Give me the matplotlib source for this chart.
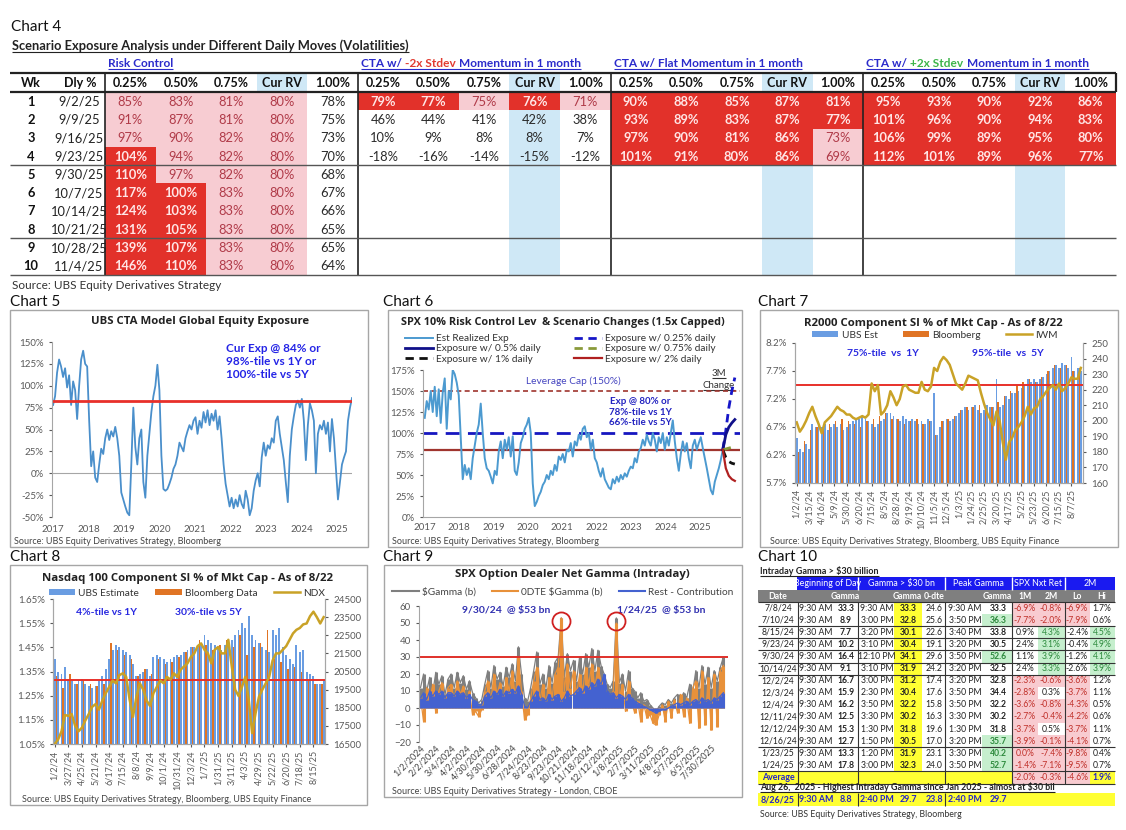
import numpy as np
import matplotlib
matplotlib.use("Agg")
import matplotlib.pyplot as plt
from matplotlib.patches import Rectangle

plt.rcParams['font.family'] = ['Lato', 'DejaVu Sans']
TITLE_FONT = ['Open Sans', 'DejaVu Sans']

# ---------------- Chart 4: scenario table ----------------
weeks = list(range(1, 11))
week_dates = ['9/2/25', '9/9/25', '9/16/25', '9/23/25', '9/30/25', '10/7/25',
              '10/14/25', '10/21/25', '10/28/25', '11/4/25']
scen_cols = ['0.25%', '0.50%', '0.75%', 'Cur RV', '1.00%']
risk_ctrl = [[85, 83, 81, 80, 78], [91, 87, 81, 80, 75], [97, 90, 82, 80, 73],
             [104, 94, 82, 80, 70], [110, 97, 82, 80, 68], [117, 100, 83, 80, 67],
             [124, 103, 83, 80, 66], [131, 105, 83, 80, 65], [139, 107, 83, 80, 65],
             [146, 110, 83, 80, 64]]
cta_neg2 = [[79, 77, 75, 76, 71], [46, 44, 41, 42, 38], [10, 9, 8, 8, 7], [-18, -16, -14, -15, -12]]
cta_flat = [[90, 88, 85, 87, 81], [93, 89, 83, 87, 77], [97, 90, 81, 86, 73], [101, 91, 80, 86, 69]]
cta_pos2 = [[95, 93, 90, 92, 86], [101, 96, 90, 94, 83], [106, 99, 89, 95, 80], [112, 101, 89, 96, 77]]
# cell shading codes: r = red, p = pink, w = none
risk_fill = ['ppppw'] * 3 + ['rpppw'] * 2 + ['rrppw'] * 5
neg2_fill = ['rrprp', 'wwwww', 'wwwww', 'wwwww']
flat_fill = ['rrrrr', 'rrrrr', 'rrrrp', 'rrrrp']
pos2_fill = ['rrrrr'] * 4

# ---------------- Chart 5: CTA global equity exposure (%) ----------------
cta_exp = [78, 88, 115, 130, 122, 110, 120, 98, 112, 78, 105, 95, 62, 100, 130, 140, 125, 122,
           60, 8, 25, -5, -10, 10, 28, 22, 40, 50, 38, 48, 42, 53, 40, 20, -22, -30, -38, -45,
           -48, 10, 75, 30, 10, 40, 50, -10, -28, 20, 45, 70, 88, 100, 124, 95, 20, -18, -20,
           -18, -12, -5, 5, 10, 20, 35, 30, 25, 40, 48, 55, 50, 60, 64, 45, 60, 52, 70, 58, 72,
           55, 68, 60, 72, 50, 65, 40, 10, -12, -25, -38, -28, -40, -30, -38, -25, -35, -40,
           -20, -30, -48, -40, -20, -8, 0, -15, 18, 35, 20, 32, 28, 40, 35, 60, 65, 45, 30, 15,
           -10, -33, 20, 50, 65, 78, 83, 75, 85, 60, 15, 55, 80, 72, 60, 0, 45, 55, 50, 60, 45,
           58, 25, 62, 40, 5, -30, -10, 10, 18, 25, 60, 75, 86]
cta_span = (2017.0, 2025.42)
cta_cur_line = 83

# ---------------- Chart 6: SPX risk control exposure (%) ----------------
rc_exp = [118, 138, 128, 150, 125, 155, 120, 152, 112, 148, 165, 105, 150, 140, 175, 170, 160,
          145, 95, 45, 62, 50, 58, 45, 70, 85, 100, 110, 135, 100, 70, 58, 55, 48, 40, 55, 50,
          78, 90, 70, 92, 80, 95, 72, 96, 55, 50, 65, 88, 95, 105, 110, 118, 100, 40, 13, 18,
          25, 30, 38, 42, 50, 45, 55, 50, 62, 55, 72, 68, 75, 65, 80, 78, 88, 72, 90, 85, 98,
          92, 105, 108, 95, 100, 80, 92, 70, 65, 55, 48, 58, 45, 40, 35, 33, 45, 40, 48, 42,
          50, 45, 52, 48, 55, 60, 58, 70, 65, 78, 82, 92, 85, 98, 90, 85, 100, 92, 78, 95, 88,
          100, 80, 95, 85, 100, 115, 90, 70, 55, 75, 90, 78, 88, 70, 58, 85, 92, 80, 88, 95,
          82, 70, 58, 45, 32, 27, 42, 50, 58, 68, 80]
rc_span = (2017.0, 2025.67)
scen_span = (2025.67, 2026.02)
scen_025 = [80, 103, 130, 150, 166]
scen_050 = [80, 98, 107, 112, 116]
scen_075 = [80, 81, 82, 83, 84]
scen_100 = [80, 71, 66, 64, 63]
scen_200 = [80, 58, 49, 45, 43]

# ---------------- Chart 7: R2000 SI % of mkt cap ----------------
r2k_labels = ['1/2/24', '3/15/24', '4/16/24', '5/9/24', '5/30/24', '6/20/24', '7/15/24', '8/5/24',
              '8/28/24', '9/19/24', '10/10/24', '11/5/24', '12/5/24', '1/3/25', '1/24/25', '2/25/25',
              '3/20/25', '4/17/25', '5/2/25', '5/23/25', '6/20/25', '7/15/25', '8/7/25']
r2k_ubs = [6.50, 6.30, 6.25, 6.40, 6.30, 6.75, 6.70, 6.80, 6.70, 6.75,
           6.65, 6.70, 6.75, 6.70, 6.75, 6.65, 6.70, 6.75, 6.80, 6.85,
           6.85, 6.90, 6.85, 6.80, 6.75, 6.70, 6.75, 6.80, 6.85, 6.95,
           6.95, 6.90, 6.85, 6.80, 6.90, 6.85, 6.80, 6.85, 6.80, 6.75,
           6.80, 6.75, 6.85, 6.80, 7.30, 6.55, 6.70, 6.80, 6.85, 6.80,
           6.85, 6.90, 6.95, 7.00, 7.05, 7.00, 7.05, 7.10, 7.00, 6.95,
           7.00, 7.10, 7.05, 7.05, 7.55, 7.05, 7.10, 7.25, 7.20, 7.30,
           7.30, 7.35, 7.40, 7.45, 7.55, 7.50, 7.55, 7.50, 7.55, 7.60,
           7.65, 7.70, 7.75, 7.80, 7.75, 7.85, 7.80, 7.75, 7.95, 7.70,
           7.75, 7.70]
r2k_bbg = [6.25, 6.45, 6.65, 6.70, 6.70, 6.75, 6.80, 6.85, 6.80, 6.75, 6.70, 6.80, 6.85, 6.90,
           6.95, 6.85, 6.85, 6.75, 6.80, 6.85, 6.75, 6.80, 6.55, 6.80, 6.85, 6.90, 7.00, 7.05,
           7.05, 7.10, 7.00, 7.05, 7.15, 7.25, 7.35, 7.45, 7.50, 7.55, 7.50, 7.60, 7.70, 7.80,
           7.75, 7.80, 7.70, 7.75]
iwm = [199, 193, 196, 200, 205, 209, 203, 198, 192, 199, 201, 203, 206, 209, 207, 206, 204, 204,
       202, 201, 202, 203, 202, 204, 224, 219, 223, 204, 206, 210, 219, 215, 210, 214, 222, 223,
       220, 219, 218, 218, 225, 220, 219, 222, 234, 232, 238, 241, 239, 236, 230, 224, 222, 220,
       224, 229, 228, 227, 226, 218, 211, 205, 201, 197, 206, 200, 186, 175, 186, 189, 194, 196,
       199, 203, 209, 204, 208, 209, 214, 216, 219, 221, 223, 220, 224, 219, 221, 224, 228, 227,
       227, 234]
r2k_line = 7.45

# ---------------- Chart 8: Nasdaq 100 SI % of mkt cap ----------------
ndx_labels = ['1/2/24', '3/27/24', '4/25/24', '5/21/24', '6/17/24', '7/15/24', '8/8/24', '9/9/24',
              '10/1/24', '10/31/24', '12/3/24', '1/7/25', '1/31/25', '3/11/25', '4/3/25', '4/29/25',
              '5/22/25', '6/20/25', '7/18/25', '8/15/25']
ndx_ubs = [1.40, 1.35, 1.34, 1.37, 1.32, 1.31, 1.30, 1.31, 1.32, 1.30,
           1.29, 1.28, 1.29, 1.31, 1.33, 1.36, 1.40, 1.44, 1.46, 1.45,
           1.44, 1.43, 1.42, 1.38, 1.33, 1.34, 1.35, 1.36, 1.33, 1.41,
           1.42, 1.41, 1.40, 1.39, 1.40, 1.41, 1.42, 1.42, 1.43, 1.44,
           1.45, 1.45, 1.46, 1.47, 1.50, 1.48, 1.47, 1.46, 1.45, 1.44,
           1.46, 1.47, 1.48, 1.50, 1.52, 1.55, 1.53, 1.58, 1.50, 1.48,
           1.47, 1.45, 1.44, 1.43, 1.52, 1.50, 1.53, 1.45, 1.42, 1.40,
           1.38, 1.46, 1.43, 1.44, 1.35, 1.34, 1.33, 1.30, 1.30, 1.31]
ndx_bbg = [1.33, 1.28, 1.34, 1.30, 1.31, 1.30, 1.29, 1.30, 1.47, 1.44, 1.42, 1.40, 1.33, 1.36,
           1.34, 1.40, 1.38, 1.39, 1.41, 1.43, 1.45, 1.48, 1.46, 1.44, 1.46, 1.48, 1.45, 1.50,
           1.42, 1.45, 1.47, 1.52, 1.40, 1.39, 1.36, 1.37, 1.35, 1.31, 1.30, 1.30]
ndx_px = [16500, 16750, 17200, 18100, 18050, 18150, 17500, 17200, 17400, 17800, 18150, 18550,
          18700, 18400, 18900, 19300, 19650, 20000, 19850, 20300, 20400, 20200, 18950, 18000,
          19100, 19850, 19500, 18900, 18600, 19300, 19650, 20000, 19850, 20200, 20050, 20400,
          20200, 20600, 20780, 20950, 21300, 21500, 21900, 22050, 21700, 21500, 20950, 21700,
          21850, 21500, 21500, 22250, 20800, 19500, 19150, 19650, 20200, 18950, 17100, 18200,
          19100, 19500, 19850, 20200, 21100, 21500, 21500, 21700, 21900, 22250, 22600, 22800,
          22900, 23100, 23150, 23550, 23800, 23500, 23150, 23500]
ndx_line = 1.315

# ---------------- Chart 9: SPX dealer net gamma ($bn) ----------------
gam_labels = ['1/2/2024', '2/2/2024', '3/4/2024', '4/2/2024', '4/30/2024', '5/30/2024',
              '6/28/2024', '7/24/2024', '8/23/2024', '9/23/2024', '10/21/2024', '11/18/2024',
              '12/12/2024', '1/8/2025', '2/7/2025', '3/11/2025', '4/8/2025', '5/7/2025',
              '6/5/2025', '7/30/2025']
gam_total = [12, 20, 10, 18, 9, 21, 14, 19, 8, 17, 20, 12, 21, 15, 19, 11, 16, 9, 6, 3,
             5, 14, 22, 12, 25, 17, 21, 13, 24, 18, 26, 16, 36, 20, 6, 4, 12, 22, 33, 14,
             20, 12, 25, 15, 27, 30, 53, 18, 32, 22, 28, 16, 30, 20, 32, 24, 35, 22, 34, 25,
             20, 14, 12, 16, 53, 15, 20, 10, 22, 12, 10, 6, 9, 4, 5, 2, 0, -2, 1, 3,
             2, 5, 3, 6, 8, 5, 9, 6, 14, 10, 22, 12, 25, 14, 24, 12, 22, 16, 24, 30]
gam_0dte = [6, -8, 12, 4, 14, -3, 10, 15, 2, 12, 14, 4, 16, 8, 13, 2, 10, -4, -2, -5,
            -1, 10, 16, 4, 20, 8, 15, 2, 18, 10, 22, 6, 30, 10, -7, -4, 6, 16, 24, 4,
            14, 2, 18, 6, 20, 24, 53, 10, 26, 12, 22, 8, 20, 10, 24, 14, 26, 12, 24, 16,
            8, 2, 4, 10, 50, 6, 14, -2, 16, 4, -3, 4, -8, 2, -6, -4, -9, -10, -4, 2,
            -8, 4, -6, 5, -3, 8, -5, 6, -9, 12, 16, -12, 22, -10, 18, -13, 20, -11, 22, 25]
gam_rest = [6, 9, 5, 10, 7, 10, 8, 10, 6, 9, 9, 7, 10, 8, 9, 6, 8, 5, 4, 2,
            2, 7, 9, 6, 10, 8, 11, 7, 10, 9, 11, 9, 13, 8, 1, 0, 4, 7, 10, 5,
            6, 4, 8, 5, 7, 8, 4, 6, 10, 7, 8, 10, 12, 9, 13, 11, 15, 13, 17, 14,
            20, 10, 8, 9, 6, 8, 7, 5, 8, 6, 4, 3, 2, 1, 0, -1, -2, -3, -2, -1,
            -1, 0, 1, 2, 3, 2, 3, 4, 2, 4, 5, 3, 6, 4, 5, 3, 6, 5, 7, 9]
gam_line = 30

# ---------------- Chart 10: intraday gamma table ----------------
c10_dates = ['7/8/24', '7/10/24', '8/15/24', '9/23/24', '9/30/24', '10/14/24', '12/2/24', '12/3/24',
             '12/4/24', '12/11/24', '12/12/24', '12/16/24', '1/23/25', '1/24/25']
bod_time = ['9:30 AM'] * 14
bod_gamma = [33.3, 8.9, 7.7, 10.2, 16.4, 9.1, 16.7, 15.9, 16.2, 12.5, 15.3, 12.7, 13.3, 17.8]
g30_time = ['9:30 AM', '3:00 PM', '3:20 PM', '3:10 PM', '12:10 PM', '3:10 PM', '3:00 PM',
            '2:30 PM', '3:50 PM', '3:30 PM', '1:30 PM', '1:50 PM', '1:20 PM', '3:00 PM']
g30_gamma = [33.3, 32.8, 30.1, 30.4, 34.1, 31.9, 31.2, 30.4, 32.2, 30.2, 31.8, 30.5, 31.9, 32.3]
g30_0dte = [24.6, 25.6, 22.6, 19.1, 29.6, 24.2, 17.4, 17.6, 15.8, 16.3, 19.6, 17.0, 23.1, 24.0]
peak_time = ['9:30 AM', '3:50 PM', '3:40 PM', '3:20 PM', '3:50 PM', '3:20 PM', '3:20 PM',
             '3:50 PM', '3:50 PM', '3:30 PM', '1:30 PM', '3:20 PM', '3:30 PM', '3:50 PM']
peak_gamma = [33.3, 36.3, 33.8, 30.5, 52.6, 32.5, 32.8, 34.4, 32.2, 30.2, 31.8, 35.7, 40.2, 52.7]
ret_1m = [-6.9, -7.7, 0.9, 2.4, 1.1, 2.4, -2.3, -2.8, -3.6, -2.7, -3.7, -3.9, 0.0, -1.4]
ret_2m = [-0.8, -2.0, 4.3, 3.1, 3.9, 3.3, -0.6, 0.3, -0.8, -0.4, 0.5, -0.1, -7.4, -7.1]
lo_2m = [-6.9, -7.9, -2.4, -0.4, -1.2, -2.6, -3.6, -3.7, -4.3, -4.2, -3.7, -4.1, -9.8, -9.5]
hi_2m = [1.7, 0.6, 4.5, 4.9, 4.1, 3.9, 1.2, 1.1, 0.5, 0.6, 1.1, 0.7, 0.4, 0.7]
avg_ret = [-2.0, -0.3, -4.6, 1.9]
aug26_row = ['8/26/25', '9:30 AM', '8.8', '2:40 PM', '29.7', '23.8', '2:40 PM', '29.7']

# =====================================================================
W, H = 1126, 830
fig = plt.figure(figsize=(W / 100, H / 100), dpi=100)
bg = fig.add_axes([0, 0, 1, 1])
bg.set_xlim(0, W)
bg.set_ylim(H, 0)
bg.axis('off')
renderer = fig.canvas.get_renderer()
inv = bg.transData.inverted()


def frac(x0, y0, x1, y1):
    return [x0 / W, 1 - y1 / H, (x1 - x0) / W, (y1 - y0) / H]


def txt(x, y, s, size=7, ha='center', va='center', color='#262626', weight='normal', **kw):
    return bg.text(x, y, s, fontsize=size, ha=ha, va=va, color=color, fontweight=weight, **kw)


def rect(x, y, w, h, color):
    p = Rectangle((x, y), w, h, facecolor=color, edgecolor='none', lw=0)
    bg.add_patch(p)
    return p


def hline(y, x0, x1, color='#222', lw=1.0):
    bg.plot([x0, x1], [y, y], color=color, lw=lw, solid_capstyle='butt')


def vline(x, y0, y1, color='#222', lw=1.0):
    bg.plot([x, x], [y0, y1], color=color, lw=lw, solid_capstyle='butt')


def pieces(x, y, parts, size, weight='bold', underline=True, ul_color=None):
    x_start = x
    gap = size * 100 / 72 * 0.26
    for i, (s, c) in enumerate(parts):
        t = bg.text(x, y, s, fontsize=size, color=c, fontweight=weight, ha='left', va='baseline')
        bb = t.get_window_extent(renderer)
        x = inv.transform((bb.x1, bb.y0))[0] + (gap if i < len(parts) - 1 else 0)
    if underline:
        hline(y + 2, x_start, x, color=ul_color or parts[0][1], lw=0.8)


def underlined(x, y, s, size, color, weight='normal', ha='left'):
    t = txt(x, y, s, size=size, ha=ha, va='baseline', color=color, weight=weight)
    bb = t.get_window_extent(renderer)
    x0 = inv.transform((bb.x0, bb.y0))[0]
    x1 = inv.transform((bb.x1, bb.y0))[0]
    hline(y + 2, x0, x1, color=color, lw=0.8)


def panel(x0, y0, x1, y1):
    bg.add_patch(Rectangle((x0, y0), x1 - x0, y1 - y0, fill=False, ec='#A6A6A6', lw=1.0))


def style_axis(ax, labelsize=7):
    for s in ax.spines.values():
        s.set_color('#A6A6A6')
        s.set_linewidth(0.8)
    ax.tick_params(labelsize=labelsize, colors='#595959', length=2.5, width=0.8)
    ax.set_facecolor('none')


# ---------------- Chart 4 table ----------------
txt(11, 27, 'Chart 4', size=11, ha='left', color='#111')
underlined(12, 50, 'Scenario Exposure Analysis under Different Daily Moves (Volatilities)', 9.3,
           '#222', weight='bold')

BLUE_T = '#2B2BCB'
G0 = [105, 357.75, 610.5, 863.25]
GW = 252.75
CW = GW / 5
TOP, HDR, RH = 73, 92, 18.3
BOT = HDR + RH * 10
fill_c = {'r': '#E2312A', 'p': '#F7CCD2', 'w': None}
text_c = {'r': '#FFE6E6', 'p': '#B03A48', 'w': '#2A2A2A'}
CFS = 9.3

pieces(G0[0] + 3, 67, [('Risk Control', BLUE_T)], 8.6)
pieces(G0[1] + 3, 67, [('CTA w/', BLUE_T), ('-2x Stdev', '#E23B30'), ('Momentum in 1 month', BLUE_T)], 8.6,
       ul_color=BLUE_T)
pieces(G0[2] + 3, 67, [('CTA w/ Flat Momentum in 1 month', BLUE_T)], 8.6)
pieces(G0[3] + 3, 67, [('CTA w/', BLUE_T), ('+2x Stdev', '#3DB54A'), ('Momentum in 1 month', BLUE_T)], 8.6,
       ul_color=BLUE_T)

groups = [(risk_ctrl, risk_fill), (cta_neg2, neg2_fill), (cta_flat, flat_fill), (cta_pos2, pos2_fill)]
for g, (vals, fills) in enumerate(groups):
    x0 = G0[g]
    rect(x0 + 3 * CW, TOP, CW, BOT - TOP, '#CFE8F6')
    for c, name in enumerate(scen_cols):
        txt(x0 + CW * (c + 0.5), (TOP + HDR) / 2 + 0.5, name, size=9, weight='bold', color='#111')
    for r, row in enumerate(vals):
        for c, v in enumerate(row):
            code = fills[r][c]
            y = HDR + RH * r
            if fill_c[code]:
                rect(x0 + CW * c, y, CW, RH, fill_c[code])
            txt(x0 + CW * (c + 0.5), y + RH / 2 + 0.5, f'{v}%', size=CFS, color=text_c[code],
                weight='bold' if code == 'r' else 'normal')

txt(31, (TOP + HDR) / 2 + 0.5, 'Wk', size=9, weight='bold', color='#111')
txt(80, (TOP + HDR) / 2 + 0.5, 'Dly %', size=9, weight='bold', color='#111')
for r in range(10):
    yc = HDR + RH * (r + 0.5) + 0.5
    txt(31, yc, str(weeks[r]), size=CFS, weight='bold', color='#111')
    txt(79, yc, week_dates[r], size=CFS, color='#222')

hline(TOP, 10, 1116, lw=1.6)
hline(HDR, 10, 1116, lw=1.6)
for x in [105, G0[1], G0[2], G0[3]]:
    vline(x, TOP, BOT, lw=1.2)
vline(1116, TOP, HDR, lw=1.6)
for r in (4, 8, 10):
    hline(HDR + RH * r, 10, 1116, color='#555', lw=1.0)
txt(12, 285, 'Source: UBS Equity Derivatives Strategy', size=8.5, ha='left', color='#333')

# ---------------- panels ----------------
txt(10, 302, 'Chart 5', size=11, ha='left', color='#111')
txt(383, 302, 'Chart 6', size=11, ha='left', color='#111')
txt(758, 302, 'Chart 7', size=11, ha='left', color='#111')
txt(10, 557, 'Chart 8', size=11, ha='left', color='#111')
txt(383, 557, 'Chart 9', size=11, ha='left', color='#111')
txt(758, 557, 'Chart 10', size=11, ha='left', color='#111')
panel(10, 310, 368, 547)
panel(388, 310, 742, 547)
panel(760, 310, 1118, 547)
panel(10, 565, 367, 805)
panel(384, 565, 742, 797)

# ---------------- Chart 5 ----------------
ax5 = fig.add_axes(frac(52, 342, 352, 517))
x5 = np.linspace(cta_span[0], cta_span[1], len(cta_exp))
ax5.axhline(0, color='#A6A6A6', lw=0.8)
ax5.plot(x5, cta_exp, color='#4A8FCB', lw=1.3)
ax5.axhline(cta_cur_line, color='#E8302A', lw=2)
ax5.set_xlim(2016.97, 2025.42)
ax5.set_ylim(-50, 150)
ax5.set_yticks(range(-50, 151, 25))
ax5.set_yticklabels([f'{v}%' for v in range(-50, 151, 25)])
ax5.set_xticks(range(2017, 2026))
style_axis(ax5)
for s in ('top', 'right', 'bottom'):
    ax5.spines[s].set_visible(False)
ax5.tick_params(axis='x', length=0, pad=6)
txt(200, 321, 'UBS CTA Model Global Equity Exposure', size=8.2, weight='bold', color='#222',
    family=TITLE_FONT)
txt(226, 343, 'Cur Exp @ 84% or\n98%-tile vs 1Y or\n100%-tile vs 5Y', size=8.5, ha='left', va='top',
    color='#2424E6', weight='bold', linespacing=1.2)
txt(14, 541, 'Source: UBS Equity Derivatives Strategy, Bloomberg', size=6.5, ha='left', color='#444')

# ---------------- Chart 6 ----------------
ax6 = fig.add_axes(frac(423, 370, 740, 517))
x6 = np.linspace(rc_span[0], rc_span[1], len(rc_exp))
xs = np.linspace(scen_span[0], scen_span[1], len(scen_025))
ax6.axhline(150, color='#A0352E', lw=1.2, ls=(0, (3, 2)))
ax6.axhline(100, color='#1616C0', lw=2, ls=(0, (5, 3)))
ax6.axhline(80, color='#A0352E', lw=1.6)
l_est, = ax6.plot(x6, rc_exp, color='#4C9AD0', lw=1.4, label='Est Realized Exp')
l_025, = ax6.plot(xs, scen_025, color='#1616C8', lw=2, ls=(0, (3, 2)), label='Exposure w/ 0.25% daily')
l_050, = ax6.plot(xs, scen_050, color='#10108A', lw=2, label='Exposure w/ 0.5% daily')
l_075, = ax6.plot(xs, scen_075, color='#8A9A3A', lw=2, ls=(0, (3, 2)), label='Exposure w/ 0.75% daily')
l_100, = ax6.plot(xs, scen_100, color='#111111', lw=2, ls=(0, (3, 2)), label='Exposure w/ 1% daily')
l_200, = ax6.plot(xs, scen_200, color='#B02020', lw=1.6, label='Exposure w/ 2% daily')
ax6.set_xlim(2016.95, 2026.17)
ax6.set_ylim(0, 175)
ax6.set_yticks(range(0, 176, 25))
ax6.set_yticklabels([f'{v}%' for v in range(0, 176, 25)])
ax6.set_xticks(range(2017, 2026))
style_axis(ax6)
for s in ('top', 'right'):
    ax6.spines[s].set_visible(False)
ax6.tick_params(axis='x', length=0, pad=4)
hs = [l_est, l_050, l_100, l_025, l_075, l_200]
ax6.legend(hs, [h.get_label() for h in hs], ncol=2, loc='upper left',
           bbox_to_anchor=(400 / W, 1 - 329 / H), bbox_transform=fig.transFigure, frameon=False,
           fontsize=7.3, handlelength=2.8, columnspacing=3.2, labelspacing=0.12, borderpad=0,
           handletextpad=0.3, labelcolor='#333')
txt(563, 322, 'SPX 10% Risk Control Lev  & Scenario Changes (1.5x Capped)', size=7.8, weight='bold',
    color='#222', family=TITLE_FONT)
txt(573, 381, 'Leverage Cap (150%)', size=7.3, color='#4545C0')
txt(640, 412, 'Exp @ 80% or\n78%-tile vs 1Y\n66%-tile vs 5Y', size=7, color='#2222C0', weight='bold',
    linespacing=1.15)
underlined(719, 376, '3M', 7, '#333', ha='center')
underlined(719, 388, 'Change', 7, '#333', ha='center')
txt(392, 541, 'Source: UBS Equity Derivatives Strategy, Bloomberg', size=6.5, ha='left', color='#444')

# ---------------- Chart 7 ----------------
ax7 = fig.add_axes(frac(795, 343, 1083, 483))
i7 = np.arange(len(r2k_ubs))
b7 = np.arange(0, 2 * len(r2k_bbg), 2) + 0.5
p_ubs = ax7.bar(i7, r2k_ubs, width=0.55, color='#6A9DE2', label='UBS Est')
p_bbg = ax7.bar(b7, r2k_bbg, width=0.45, color='#E07424', label='Bloomberg')
ax7.axhline(r2k_line, color='#E8302A', lw=1.4, zorder=3)
ax7.set_ylim(5.7, 8.2)
ax7.set_xlim(-0.55, 91.7)
ax7.set_yticks(np.arange(5.7, 8.21, 0.5))
ax7.set_yticklabels([f'{v:.1f}%' for v in np.arange(5.7, 8.21, 0.5)])
ax7.set_xticks(range(0, 4 * len(r2k_labels), 4))
ax7.set_xticklabels(r2k_labels, rotation=90)
style_axis(ax7)
ax7.tick_params(axis='x', labelsize=6.5, pad=2)
ax7.spines['top'].set_visible(False)
ax7r = ax7.twinx()
l_iwm, = ax7r.plot(np.arange(len(iwm)), iwm, color='#C9A227', lw=1.8, label='IWM')
ax7r.set_ylim(160, 250)
ax7r.set_yticks(range(160, 251, 10))
style_axis(ax7r)
ax7r.spines['top'].set_visible(False)
ax7.legend([p_ubs, p_bbg, l_iwm], ['UBS Est', 'Bloomberg', 'IWM'], ncol=3, loc='center',
           bbox_to_anchor=(935 / W, 1 - 335 / H), bbox_transform=fig.transFigure, frameon=False,
           fontsize=7.3, handlelength=2.6, handleheight=0.6, columnspacing=2.5, handletextpad=0.3,
           labelcolor='#333')
txt(933, 323, 'R2000 Component SI % of Mkt Cap - As of 8/22', size=8.2, weight='bold', color='#222',
    family=TITLE_FONT)
txt(883, 353, '75%-tile  vs  1Y', size=7.5, weight='bold', color='#2828E0')
txt(1008, 353, '95%-tile  vs  5Y', size=7.5, weight='bold', color='#2828E0')
txt(770, 541, 'Source: UBS Equity Derivatives Strategy, Bloomberg, UBS Equity Finance', size=6.5,
    ha='left', color='#444')

# ---------------- Chart 8 ----------------
ax8 = fig.add_axes(frac(53, 599, 325, 744))
i8 = np.arange(len(ndx_ubs))
b8 = np.arange(0, 2 * len(ndx_bbg), 2) + 0.5
p_ubs8 = ax8.bar(i8, ndx_ubs, width=0.55, color='#6A9DE2')
p_bbg8 = ax8.bar(b8, ndx_bbg, width=0.45, color='#E07424')
ax8.axhline(ndx_line, color='#E8302A', lw=1.4, zorder=3)
ax8.set_ylim(1.05, 1.65)
ax8.set_xlim(-0.5, 79.4)
ax8.set_yticks(np.arange(1.05, 1.651, 0.10))
ax8.set_yticklabels([f'{v:.2f}%' for v in np.arange(1.05, 1.651, 0.10)])
ax8.set_xticks(range(0, 4 * len(ndx_labels), 4))
ax8.set_xticklabels(ndx_labels, rotation=90)
style_axis(ax8)
ax8.tick_params(axis='x', labelsize=6.5, pad=2)
ax8.spines['top'].set_visible(False)
ax8r = ax8.twinx()
l_ndx, = ax8r.plot(np.arange(len(ndx_px)), ndx_px, color='#C9A227', lw=1.8)
ax8r.set_ylim(16500, 24500)
ax8r.set_yticks(range(16500, 24501, 1000))
style_axis(ax8r)
ax8r.spines['top'].set_visible(False)
ax8.legend([p_ubs8, p_bbg8, l_ndx], ['UBS Estimate', 'Bloomberg Data', 'NDX'], ncol=3, loc='center',
           bbox_to_anchor=(187 / W, 1 - 593 / H), bbox_transform=fig.transFigure, frameon=False,
           fontsize=7.3, handlelength=2.6, handleheight=0.6, columnspacing=1.6, handletextpad=0.3,
           labelcolor='#333')
txt(188, 578, 'Nasdaq 100 Component SI % of Mkt Cap - As of 8/22', size=8.2, weight='bold', color='#222',
    family=TITLE_FONT)
txt(106, 612, '4%-tile vs 1Y', size=7.5, weight='bold', color='#2828E0')
txt(208, 612, '30%-tile vs 5Y', size=7.5, weight='bold', color='#2828E0')
txt(22, 799, 'Source: UBS Equity Derivatives Strategy, Bloomberg, UBS Equity Finance', size=6.5,
    ha='left', color='#444')

# ---------------- Chart 9 ----------------
ax9 = fig.add_axes(frac(419, 606, 728, 742))
i9 = np.arange(len(gam_total))
C_G, C_O, C_B = '#7F7F7F', '#E8913A', '#4462D0'
for vals, col in [(gam_total, C_G), (gam_0dte, C_O), (gam_rest, C_B)]:
    ax9.vlines(i9, 0, vals, color=col, lw=2.2)
    ax9.plot(i9, vals, color=col, lw=0.9)
l_g, = ax9.plot([], [], color=C_G, lw=1.5)
l_o, = ax9.plot([], [], color=C_O, lw=1.5)
l_r, = ax9.plot([], [], color=C_B, lw=1.5)
ax9.axhline(gam_line, color='#E0302A', lw=1.4)
pk = np.argsort(gam_total)[-2:]
ax9.plot(pk, np.array(gam_total)[pk] - 2, 'o', ms=13, mfc='none', mec='#D02020', mew=1.3)
ax9.set_ylim(-20, 60)
ax9.set_xlim(-0.5, 100.5)
ax9.set_yticks(range(-20, 61, 10))
ax9.set_xticks(range(0, 5 * len(gam_labels), 5))
ax9.set_xticklabels(gam_labels, rotation=45, ha='right', rotation_mode='anchor')
style_axis(ax9)
ax9.tick_params(axis='x', labelsize=6.5, pad=1, length=0, colors='#444')
for s in ('top', 'right', 'bottom'):
    ax9.spines[s].set_visible(False)
ax9.legend([l_g, l_o, l_r], ['$Gamma (b)', '0DTE $Gamma (b)', 'Rest - Contribution'], ncol=3,
           loc='center', bbox_to_anchor=(563 / W, 1 - 592 / H), bbox_transform=fig.transFigure,
           frameon=False, fontsize=7.3, handlelength=2.6, columnspacing=1.6, handletextpad=0.3,
           labelcolor='#444')
txt(572, 574, 'SPX Option Dealer Net Gamma (Intraday)', size=8.2, weight='bold', color='#222',
    family=TITLE_FONT)
txt(506, 610, '9/30/24  @ $53 bn', size=7.5, weight='bold', color='#3030B0')
txt(661, 610, '1/24/25  @ $53 bn', size=7.5, weight='bold', color='#3030B0')
txt(392, 791, 'Source: UBS Equity Derivatives Strategy - London, CBOE', size=6.5, ha='left',
    color='#444')

# ---------------- Chart 10 table ----------------
E = [758, 798, 832, 858, 894, 922, 945, 982, 1012, 1038, 1065, 1090, 1115]
CX = [778, 816, 846, 877, 908, 934, 965, 998, 1025, 1051, 1077, 1102]
FS = 6.2
underlined(760, 574, 'Intraday Gamma > $30 billion', 6.5, '#222', weight='bold')
hdr_box = rect(797, 577, 1115 - 797, 13, '#1A1AF0')
for lab, x, x0, x1 in [('Beginning of Day', 828, 797, 858), ('Gamma > $30 bn', 901, 858, 945),
                       ('Peak Gamma', 978, 945, 1012), ('SPX Nxt Ret', 1038, 1012, 1065),
                       ('2M', 1090, 1065, 1115)]:
    t = txt(x, 583.5, lab, size=6.4, color='white')
    clip = Rectangle((x0, 577), x1 - x0, 13, transform=bg.transData)
    t.set_clip_path(clip)
for x in (858, 945, 1012, 1065):
    vline(x, 577, 590, color='white', lw=1)
rect(758, 590, 1115 - 758, 12, '#7F7F7F')
for lab, x in [('Date', 778), ('Gamma', 845), ('Gamma', 907), ('0-dte', 934), ('Gamma', 997),
               ('1M', 1025), ('2M', 1051), ('Lo', 1077), ('Hi', 1102)]:
    txt(x, 596, lab, size=6.2, color='white', weight='bold')

T0, R10 = 602, 12.1
n10 = len(c10_dates)
rect(894, T0, 28, R10 * n10, '#FFFF33')
PINK, RED_T, GRN, GRN_T = '#F8CBD0', '#C0302A', '#C6EFCE', '#2E8B3E'
for r in range(n10):
    y = T0 + R10 * r
    yc = y + R10 / 2
    if peak_gamma[r] > 35:
        rect(982, y, 30, R10, GRN)
    row_txt = [c10_dates[r], bod_time[r], f'{bod_gamma[r]:.1f}', g30_time[r], f'{g30_gamma[r]:.1f}',
               f'{g30_0dte[r]:.1f}', peak_time[r], f'{peak_gamma[r]:.1f}']
    for k, s in enumerate(row_txt):
        bold = k in (2, 4, 7)
        col = GRN_T if (k == 7 and peak_gamma[r] > 35) else '#222'
        txt(CX[k], yc, s, size=FS, color=col, weight='bold' if bold else 'normal')
    rets = [ret_1m[r], ret_2m[r], lo_2m[r], hi_2m[r]]
    for k, v in enumerate(rets):
        x0 = E[8 + k]
        if (k < 2 and v <= 0) or (k == 2 and v < -3):
            rect(x0, y, E[9 + k] - x0, R10, PINK)
            col = RED_T
        elif k in (1, 3) and v >= 3:
            rect(x0, y, E[9 + k] - x0, R10, GRN)
            col = GRN_T
        else:
            col = '#222'
        txt(CX[8 + k], yc, f'{v:.1f}%', size=FS, color=col)

ya = T0 + R10 * n10
rect(758, ya, 1012 - 758, R10, '#FFFF33')
rect(1012, ya, 1090 - 1012, R10, PINK)
rect(1090, ya, 25, R10, '#FFFF33')
txt(778, ya + R10 / 2, 'Average', size=6.4, color='#2323C8', weight='bold')
for k, v in enumerate(avg_ret):
    txt(CX[8 + k], ya + R10 / 2, f'{v:.1f}%', size=FS, color=RED_T if v < 0 else '#2323C8',
        weight='normal' if v < 0 else 'bold')

for x in (798, 858, 945, 1012, 1065):
    vline(x, T0, ya + R10, color='#333', lw=0.8)
for r in (0, 2, 3, 4, 5, 6, 12, 14, 15):
    hline(T0 + R10 * r, 758, 1115, color='#333', lw=0.8)

underlined(760, 790, 'Aug 26,  2025 - Highest Intraday Gamma since Jan 2025 - almost at $30 bil', 6.4,
           '#222', weight='bold')
rect(758, 793, 1115 - 758, 13, '#FFFF33')
for k, s in enumerate(aug26_row):
    txt(CX[k], 799.5, s, size=6.4, color='#2323C8', weight='bold')
for x in (798, 858, 945):
    vline(x, 793, 806, color='#333', lw=0.8)
txt(760, 814, 'Source: UBS Equity Derivatives Strategy, Bloomberg', size=6.3, ha='left', color='#333')

fig.savefig('out.png', dpi=100)
